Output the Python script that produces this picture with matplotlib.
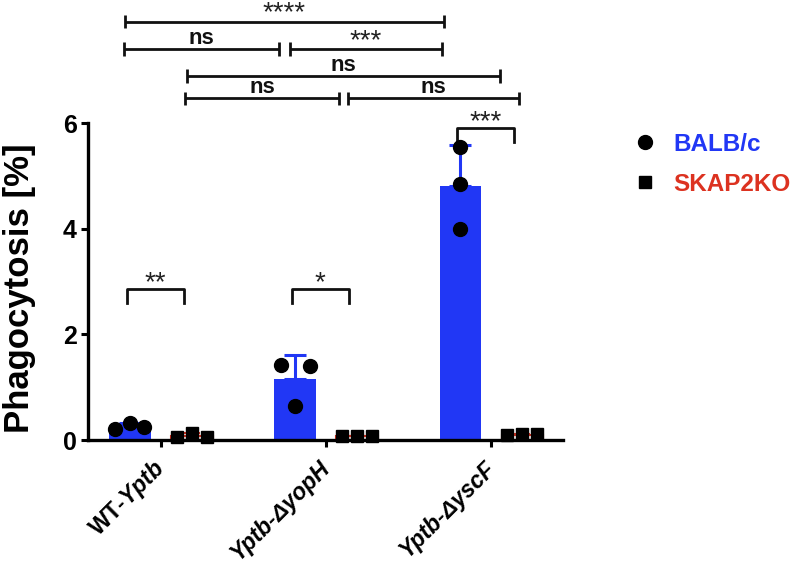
import matplotlib
matplotlib.use("Agg")
import matplotlib.pyplot as plt
from matplotlib.lines import Line2D
import numpy as np

plt.rcParams['font.family'] = ['Liberation Sans', 'DejaVu Sans']
plt.rcParams['mathtext.fontset'] = 'custom'
plt.rcParams['mathtext.rm'] = 'Liberation Sans:bold'
plt.rcParams['mathtext.it'] = 'Liberation Sans:italic:bold'

groups = ["WT-$\\mathit{Yptb}$", "Yptb-ΔyopH", "Yptb-ΔyscF"]
series = ["BALB/c", "SKAP2KO"]
yticks = [0, 2, 4, 6]

# three mice per group, phagocytosis in %
balb = [[0.20, 0.32, 0.25], [1.42, 0.64, 1.41], [5.55, 4.85, 4.00]]
skap = [[0.05, 0.14, 0.05], [0.07, 0.07, 0.07], [0.09, 0.11, 0.11]]

inner_stats = ["**", "*", "***"]
top_stats = [("b", 0, "b", 2, "****"),
             ("b", 0, "b", 1, "ns"),
             ("b", 1, "b", 2, "***"),
             ("r", 0, "r", 2, "ns"),
             ("r", 0, "r", 1, "ns"),
             ("r", 1, "r", 2, "ns")]

BLUE = "#2137f5"
RED = "#dc3220"
OFF = 0.188
WIDTH = 0.25


def pos(s, g):
	return g - OFF if s == "b" else g + OFF


def draw_top(ax, x1, x2, y, label):
	cap = 0.125
	kw = dict(color="#111111", lw=2.0, clip_on=False, solid_capstyle="butt")
	ax.plot([x1, x2], [y, y], **kw)
	ax.plot([x1, x1], [y - cap, y + cap], **kw)
	ax.plot([x2, x2], [y - cap, y + cap], **kw)
	if "*" in label:
		ax.text((x1 + x2) / 2, y + 0.02, label, ha="center", va="baseline",
			fontsize=20, color="#222222", clip_on=False)
	else:
		ax.text((x1 + x2) / 2, y + 0.1, label, ha="center", va="baseline",
			fontsize=16, fontweight="bold", color="#111111", clip_on=False)


def draw_inner(ax, x1, x2, y, label):
	leg = 0.27
	ax.plot([x1, x1, x2, x2], [y - leg, y, y, y - leg], color="#111111",
		lw=2.0, clip_on=False)
	ax.text((x1 + x2) / 2, y - 0.02, label, ha="center", va="baseline",
		fontsize=20, color="#222222")


def main():
	fig = plt.figure(figsize=(8, 5.65), dpi=100)
	ax = fig.add_axes([0.11, 0.2212, 0.594, 0.561])
	x = np.arange(len(groups))

	balb_mean = [np.mean(v) for v in balb]
	balb_sd = [np.std(v, ddof=1) for v in balb]
	skap_mean = [np.mean(v) for v in skap]
	skap_sd = [np.std(v, ddof=1) for v in skap]

	ax.bar(x - OFF, balb_mean, WIDTH, color=BLUE, zorder=2)
	ax.bar(x + OFF, skap_mean, WIDTH, facecolor="white", edgecolor=RED, lw=1.5, zorder=2)
	ax.errorbar(x - OFF, balb_mean, yerr=[np.zeros(3), balb_sd], fmt="none",
		ecolor=BLUE, elinewidth=2.2, capsize=8, capthick=2.2, zorder=3)
	ax.errorbar(x + OFF, skap_mean, yerr=[np.zeros(3), skap_sd], fmt="none",
		ecolor=RED, elinewidth=1.5, capsize=6, capthick=1.5, zorder=3)

	blue_jit = [[-0.088, 0, 0.088], [-0.088, 0, 0.088], [0, 0, 0]]
	red_jit = [-0.09, 0, 0.09]
	for g in range(len(groups)):
		ax.plot(pos("b", g) + np.array(blue_jit[g]), balb[g], "o", color="black",
			ms=10, zorder=4, clip_on=False)
		ax.plot(pos("r", g) + np.array(red_jit), skap[g], "s", color="black",
			ms=9, zorder=4, clip_on=False)

	ax.set_xlim(-0.442, 2.436)
	ax.set_ylim(0, 6)
	ax.set_yticks(yticks)
	ax.set_yticklabels([str(t) for t in yticks], fontsize=18, fontweight="bold")
	ax.set_xticks(x + 0.0)
	ax.set_xticklabels(groups, rotation=45, ha="right", va="center",
		rotation_mode="anchor", fontsize=16.5, fontweight="bold")
	for lab in ax.get_xticklabels()[1:]:
		lab.set_fontstyle("italic")
	ax.tick_params(axis="both", width=2.2, length=5, direction="out")
	ax.tick_params(axis="x", pad=13)
	ax.tick_params(axis="y", pad=3)
	for s in ["top", "right"]:
		ax.spines[s].set_visible(False)
	for s in ["left", "bottom"]:
		ax.spines[s].set_linewidth(2.4)
		ax.spines[s].set_zorder(5)

	ax.set_ylabel("Phagocytosis [%]", fontsize=25, fontweight="bold")
	ax.yaxis.set_label_coords(-0.11, 0.478)

	for g in range(len(groups)):
		y = 5.91 if g == 2 else 2.86
		draw_inner(ax, pos("b", g) - 0.02, pos("r", g) - 0.05, y, inner_stats[g])

	rows = [7.92, 7.40, 7.40, 6.89, 6.47, 6.47]
	trims = [(-0.03, -0.10), (-0.036, -0.097), (-0.03, -0.109),
		(-0.03, -0.133), (-0.043, -0.109), (-0.055, -0.018)]
	for (sa, ga, sb, gb, lab), y, (ta, tb) in zip(top_stats, rows, trims):
		draw_top(ax, pos(sa, ga) + ta, pos(sb, gb) + tb, y, lab)

	handles = [Line2D([], [], ls="none", marker="o", color="black", ms=10),
		Line2D([], [], ls="none", marker="s", color="black", ms=8.5)]
	ax.legend(handles, series, loc="upper left", frameon=False,
		bbox_to_anchor=(633 / 800, 1 - 133 / 565), bbox_transform=fig.transFigure,
		borderaxespad=0, borderpad=0, handlelength=1.0, handletextpad=0.65,
		labelspacing=0.68, labelcolor=[BLUE, RED],
		prop=dict(size=17.5, weight="bold"))

	fig.savefig("out.png", dpi=100)


if __name__ == "__main__":
	main()
